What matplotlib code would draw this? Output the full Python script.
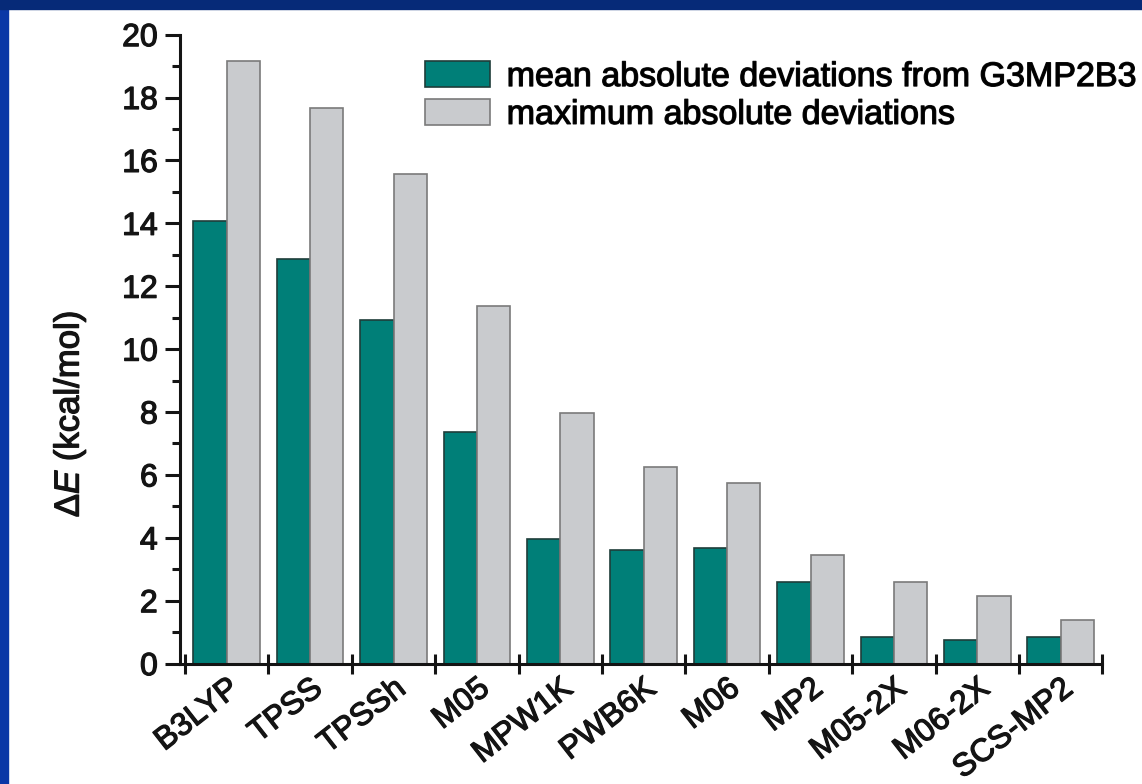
import numpy as np
import matplotlib
matplotlib.use('Agg')
import matplotlib.pyplot as plt
import matplotlib.patheffects as pe
from matplotlib.patches import Rectangle
from matplotlib.ticker import MultipleLocator, FixedLocator

plt.rcParams['font.family'] = ['Liberation Sans', 'DejaVu Sans']
plt.rcParams['mathtext.fontset'] = 'custom'
plt.rcParams['mathtext.rm'] = 'Liberation Sans'
plt.rcParams['mathtext.it'] = 'Liberation Sans:italic'

methods = ['B3LYP', 'TPSS', 'TPSSh', 'M05', 'MPW1K', 'PWB6K', 'M06', 'MP2',
           'M05-2X', 'M06-2X', 'SCS-MP2']
mad = [14.08, 12.88, 10.93, 7.36, 3.96, 3.60, 3.68, 2.58, 0.86, 0.75, 0.86]
maxad = [19.16, 17.67, 15.57, 11.37, 7.96, 6.24, 5.74, 3.44, 2.60, 2.16, 1.39]
series_labels = ['mean absolute deviations from G3MP2B3',
                 'maximum absolute deviations']

TEAL = '#007f78'
GREY = '#c9cbce'
INK = '#141414'
heavy = [pe.withStroke(linewidth=0.9, foreground=INK)]

fig = plt.figure(figsize=(11.42, 7.84), dpi=100)
fig.patch.set_facecolor('#ffffff')
# slide frame: blue strips along the top and left edges
fig.patches.append(Rectangle((0, 0), 8 / 1142, 1, transform=fig.transFigure,
                             color='#0a37a6', zorder=0))
fig.patches.append(Rectangle((0, 1 - 9 / 784), 1, 9 / 784, transform=fig.transFigure,
                             color='#062a78', zorder=0))

ax = fig.add_axes([180 / 1142, 120.4 / 784, 922.4 / 1142, 629 / 784])

x = np.arange(len(methods))
w = 0.4
ax.bar(x - w / 2, mad, w, color=TEAL, edgecolor='#1f3d3a', linewidth=1.2,
       label=series_labels[0], zorder=2)
ax.bar(x + w / 2, maxad, w, color=GREY, edgecolor='#7a7a7a', linewidth=1.2,
       label=series_labels[1], zorder=2)

ax.set_xlim(-0.56, len(methods) - 0.5)
ax.set_ylim(0, 20)

for s in ['top', 'right']:
    ax.spines[s].set_visible(False)
for s in ['left', 'bottom']:
    ax.spines[s].set_linewidth(2.2)
    ax.spines[s].set_color(INK)

ax.yaxis.set_major_locator(MultipleLocator(2))
ax.yaxis.set_minor_locator(MultipleLocator(1))
ax.tick_params(axis='y', which='major', direction='out', length=11, width=2.2,
               labelsize=23, pad=5, colors=INK)
ax.tick_params(axis='y', which='minor', direction='out', length=6, width=2.2,
               colors=INK)

# group separators on the x axis, labels at group centres
ax.xaxis.set_minor_locator(FixedLocator(np.arange(len(methods) + 1) - 0.5))
ax.tick_params(axis='x', which='minor', direction='inout', length=15, width=2.2,
               colors=INK)
ax.set_xticks(x)
ax.set_xticklabels(methods, rotation=38, ha='right', va='top',
                   rotation_mode='anchor', fontsize=23, color=INK)
ax.tick_params(axis='x', which='major', length=0, pad=7)

ax.set_ylabel(r'$\Delta$$\mathit{E}$ (kcal/mol)', fontsize=25, color=INK)
ax.yaxis.set_label_coords(-0.1, 0.397)

leg = ax.legend(loc='upper left', bbox_to_anchor=(425 / 1142, 1 - 61 / 784),
                bbox_transform=fig.transFigure, frameon=False, fontsize=24.5,
                handlelength=1.9, handleheight=0.82, handletextpad=0.5,
                labelspacing=0.17, borderpad=0, borderaxespad=0)

for t in (ax.get_xticklabels() + ax.get_yticklabels() + leg.get_texts()
          + [ax.yaxis.label]):
    t.set_path_effects(heavy)

fig.savefig('out.png', dpi=100, facecolor=fig.get_facecolor())
